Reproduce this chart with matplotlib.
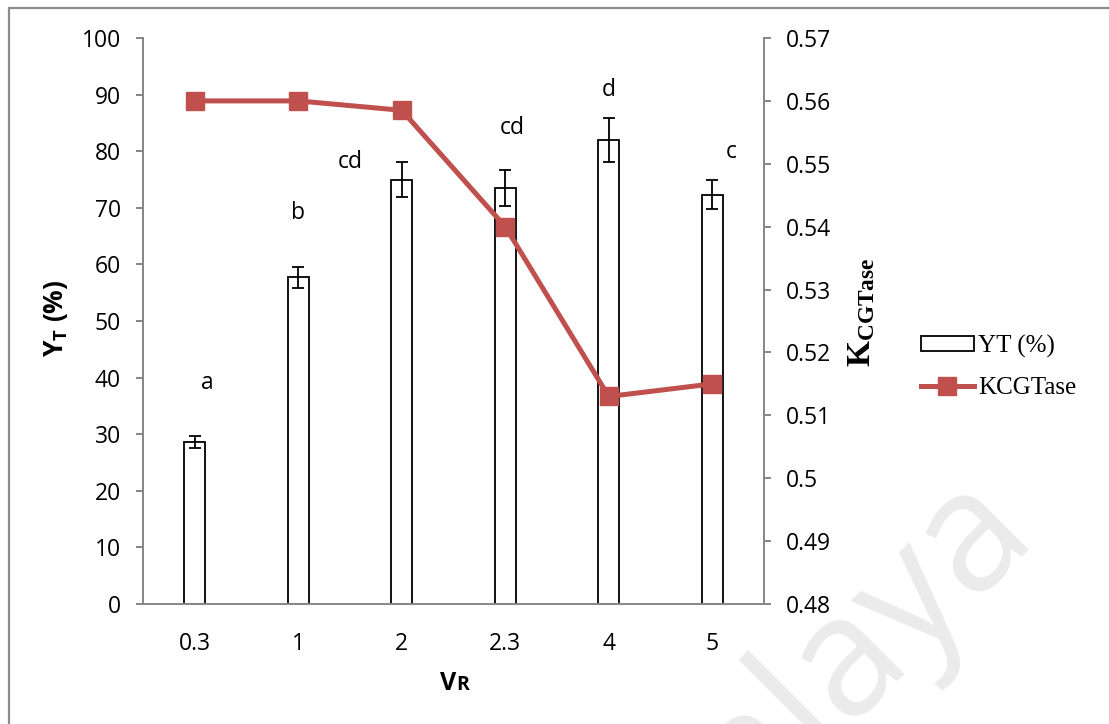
import matplotlib
matplotlib.use("Agg")
import matplotlib.pyplot as plt
from matplotlib.patches import Rectangle, Patch
from matplotlib.lines import Line2D
import numpy as np

# ---- data -------------------------------------------------------------
categories = ["0.3", "1", "2", "2.3", "4", "5"]
yt_values = [28.6, 57.7, 75.0, 73.5, 82.0, 72.3]
yt_errors = [1.0, 1.9, 3.1, 3.2, 3.9, 2.6]
kcgtase_values = [0.560, 0.560, 0.5585, 0.540, 0.513, 0.515]
group_letters = ["a", "b", "cd", "cd", "d", "c"]
letter_x = [0.12, 1.0, 1.5, 3.07, 4.0, 5.18]
letter_y = [39.0, 69.1, 78.1, 84.1, 90.8, 79.9]

# ---- style ------------------------------------------------------------
plt.rcParams["font.family"] = ["Open Sans", "DejaVu Sans"]
plt.rcParams["mathtext.fontset"] = "custom"
plt.rcParams["mathtext.bf"] = "Liberation Serif:bold"
plt.rcParams["mathtext.sf"] = "Open Sans:bold"
plt.rcParams["mathtext.rm"] = "Open Sans"

GRAY = "#868686"
RED = "#C0504D"
W, H = 1109, 724

fig = plt.figure(figsize=(W / 100, H / 100), dpi=100)
fig.patch.set_facecolor("white")

# page frame (left and top edges visible)
fig.patches.append(Rectangle((9 / W, -0.2), 1.5, 1.2 - 8 / H,
                             transform=fig.transFigure, fill=False,
                             edgecolor="#8c8c8c", linewidth=1.6, zorder=-5))

ax = fig.add_axes([143 / W, 1 - 604 / H, (764 - 143) / W, (604 - 38) / H])
ax.patch.set_alpha(0)
x = np.arange(len(categories))

ax.bar(x, yt_values, width=0.2, color="white", edgecolor="black",
       linewidth=1.3, zorder=2)
ax.errorbar(x, yt_values, yerr=yt_errors, fmt="none", ecolor="black",
            elinewidth=1.3, capsize=4.5, capthick=1.3, zorder=3)

for lx, ly, t in zip(letter_x, letter_y, group_letters):
    ax.text(lx, ly, t, ha="center", va="center", fontsize=16.5, color="black")

ax.set_xlim(-0.5, len(categories) - 0.5)
ax.set_ylim(0, 100)
ax.set_yticks(np.arange(0, 101, 10))
ax.set_xticks(x)
ax.set_xticklabels(categories)

for side in ["top", "right"]:
    ax.spines[side].set_visible(False)
for side in ["left", "bottom"]:
    ax.spines[side].set_color(GRAY)
    ax.spines[side].set_linewidth(1.4)

ax.tick_params(axis="y", direction="out", length=5, width=1.4, color=GRAY,
               labelsize=16.5, pad=11)
ax.tick_params(axis="x", length=0, labelsize=16.5, pad=20)

ax.set_ylabel(r"$\mathsf{Y_T}$ (%)", fontsize=19, fontweight="bold")
ax.yaxis.set_label_coords(-0.140, 0.505)
ax.yaxis.label.set_va("center")

# secondary axis for K
ax2 = ax.twinx()
ax2.patch.set_alpha(0)
ax2.plot(x, kcgtase_values, color=RED, linewidth=3.6, marker="s",
         markersize=12.5, markerfacecolor=RED, markeredgecolor=RED, zorder=4)
ax2.set_ylim(0.48, 0.57)
rticks = np.round(np.arange(0.48, 0.5701, 0.01), 2)
ax2.set_yticks(rticks)
ax2.set_yticklabels([f"{v:g}" for v in rticks])
for side in ["top", "left", "bottom"]:
    ax2.spines[side].set_visible(False)
ax2.spines["right"].set_color(GRAY)
ax2.spines["right"].set_linewidth(1.4)
ax2.tick_params(axis="y", direction="out", length=5, width=1.4, color=GRAY,
                labelsize=16.5, pad=11)

fig.text(862 / W, 1 - 312 / H, r"$\mathbf{K_{CGTase}}$", rotation=90,
         ha="center", va="center", fontsize=24)

# x-axis title: V with a smaller R
fig.text(456 / W, 1 - 690 / H, "V", ha="right", va="baseline",
         fontsize=18, fontweight="bold")
fig.text(456 / W, 1 - 690 / H, "R", ha="left", va="baseline",
         fontsize=14, fontweight="bold")

# legend
handles = [Patch(facecolor="white", edgecolor="black", linewidth=1.3),
           Line2D([], [], color=RED, linewidth=3.6, marker="s",
                  markersize=12.5, markerfacecolor=RED, markeredgecolor=RED)]
fig.legend(handles, ["YT (%)", "KCGTase"], loc="center left",
           bbox_to_anchor=(921 / W, 1 - 367 / H), frameon=False,
           prop={"family": "Liberation Serif", "size": 18},
           handlelength=2.1, handleheight=0.55, handletextpad=0.2,
           labelspacing=0.75, borderaxespad=0, borderpad=0)

# faint watermark
fig.text(1035 / W, 1 - 528 / H, "Malaya", rotation=45,
         rotation_mode="anchor", ha="right", va="baseline",
         fontsize=120, color="#ebebeb", zorder=-4)

fig.savefig("out.png", dpi=100)
